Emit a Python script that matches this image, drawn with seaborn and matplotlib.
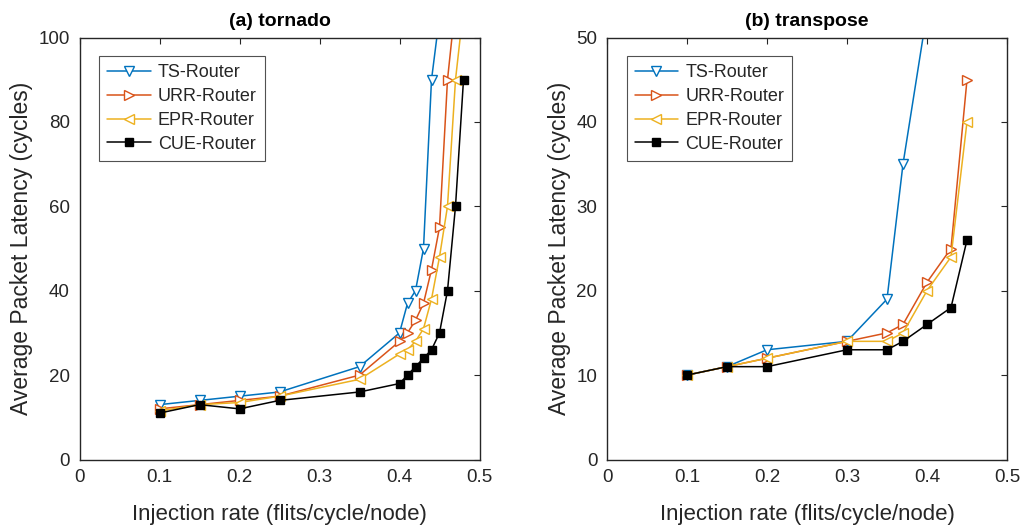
import matplotlib
matplotlib.use("Agg")
import matplotlib.pyplot as plt
import seaborn as sns
import pandas as pd

# ---- data: (a) tornado ----
a_ts_x = [0.10, 0.15, 0.20, 0.25, 0.35, 0.40, 0.41, 0.42, 0.43, 0.44, 0.45]
a_ts_y = [13, 14, 15, 16, 22, 30, 37, 40, 50, 90, 105]
a_urr_x = [0.10, 0.15, 0.20, 0.25, 0.35, 0.40, 0.41, 0.42, 0.43, 0.44, 0.45, 0.46, 0.47]
a_urr_y = [12, 13, 14, 15, 20, 28, 30, 33, 37, 45, 55, 90, 108]
a_epr_x = [0.10, 0.15, 0.20, 0.25, 0.35, 0.40, 0.41, 0.42, 0.43, 0.44, 0.45, 0.46, 0.47, 0.48]
a_epr_y = [11.5, 13, 13.5, 15, 19, 25, 26, 28, 31, 38, 48, 60, 90, 107]
a_cue_x = [0.10, 0.15, 0.20, 0.25, 0.35, 0.40, 0.41, 0.42, 0.43, 0.44, 0.45, 0.46, 0.47, 0.48]
a_cue_y = [11, 13, 12, 14, 16, 18, 20, 22, 24, 26, 30, 40, 60, 90]

# ---- data: (b) transpose ----
b_ts_x = [0.10, 0.15, 0.20, 0.30, 0.35, 0.37, 0.40]
b_ts_y = [10, 11, 13, 14, 19, 35, 53]
b_urr_x = [0.10, 0.15, 0.20, 0.30, 0.35, 0.37, 0.40, 0.43, 0.45]
b_urr_y = [10, 11, 12, 14, 15, 16, 21, 25, 45]
b_epr_x = [0.10, 0.15, 0.20, 0.30, 0.35, 0.37, 0.40, 0.43, 0.45]
b_epr_y = [10, 11, 12, 14, 14, 15, 20, 24, 40]
b_cue_x = [0.10, 0.15, 0.20, 0.30, 0.35, 0.37, 0.40, 0.43, 0.45]
b_cue_y = [10, 11, 11, 13, 13, 14, 16, 18, 26]

series_names = ["TS-Router", "URR-Router", "EPR-Router", "CUE-Router"]
colors = ["#0072BD", "#D95319", "#EDB120", "#000000"]
markers = ["v", ">", "<", "s"]
facecolors = ["white", "white", "white", "#000000"]
msizes = [6.5, 6.5, 6.5, 5.5]

panels = [
    ("(a) tornado", [(a_ts_x, a_ts_y), (a_urr_x, a_urr_y), (a_epr_x, a_epr_y), (a_cue_x, a_cue_y)],
     (0, 100), [0, 20, 40, 60, 80, 100]),
    ("(b) transpose", [(b_ts_x, b_ts_y), (b_urr_x, b_urr_y), (b_epr_x, b_epr_y), (b_cue_x, b_cue_y)],
     (0, 50), [0, 10, 20, 30, 40, 50]),
]

sns.set_theme(style="white")
plt.rcParams["font.family"] = ["Liberation Sans", "DejaVu Sans"]

fig = plt.figure(figsize=(10.21, 5.28), dpi=100)
ax_pos = [[79.5 / 1021, 68.5 / 528, 400 / 1021, 422 / 528],
          [607 / 1021, 68.5 / 528, 400 / 1021, 422 / 528]]

txt = "#262626"
for (title, data, ylim, yticks), pos in zip(panels, ax_pos):
    ax = fig.add_axes(pos)
    for (xs, ys), name, c, m, fc, ms in zip(data, series_names, colors, markers, facecolors, msizes):
        df = pd.DataFrame({"x": xs, "y": ys})
        sns.lineplot(data=df, x="x", y="y", ax=ax, color=c, marker=m, markersize=ms,
                     markerfacecolor=fc, markeredgecolor=c, markeredgewidth=1.0,
                     linewidth=1.1, label=name, sort=False, errorbar=None)
    ax.set_xlim(0, 0.5)
    ax.set_ylim(*ylim)
    ax.set_xticks([0, 0.1, 0.2, 0.3, 0.4, 0.5])
    ax.set_xticklabels(["0", "0.1", "0.2", "0.3", "0.4", "0.5"])
    ax.set_yticks(yticks)
    ax.tick_params(direction="in", top=True, right=True, length=4, width=0.8,
                   labelsize=13.5, colors=txt, pad=7)
    for sp in ax.spines.values():
        sp.set_color(txt)
        sp.set_linewidth(1.0)
    ax.set_xlabel("Injection rate (flits/cycle/node)", fontsize=16, color=txt, labelpad=13)
    ax.set_ylabel("Average Packet Latency (cycles)", fontsize=16.5, color=txt, labelpad=4)
    ax.set_title(title, fontsize=14, fontweight="bold", color="black", pad=8)
    leg = ax.legend(loc="upper left", bbox_to_anchor=(0.049, 0.956), borderaxespad=0,
                    fontsize=13, frameon=True, fancybox=False, edgecolor=txt,
                    handlelength=2.4, labelspacing=0.38, borderpad=0.45, handletextpad=0.4)
    leg.get_frame().set_linewidth(0.8)
    for t in leg.get_texts():
        t.set_color(txt)

fig.savefig("out.png", dpi=100)
